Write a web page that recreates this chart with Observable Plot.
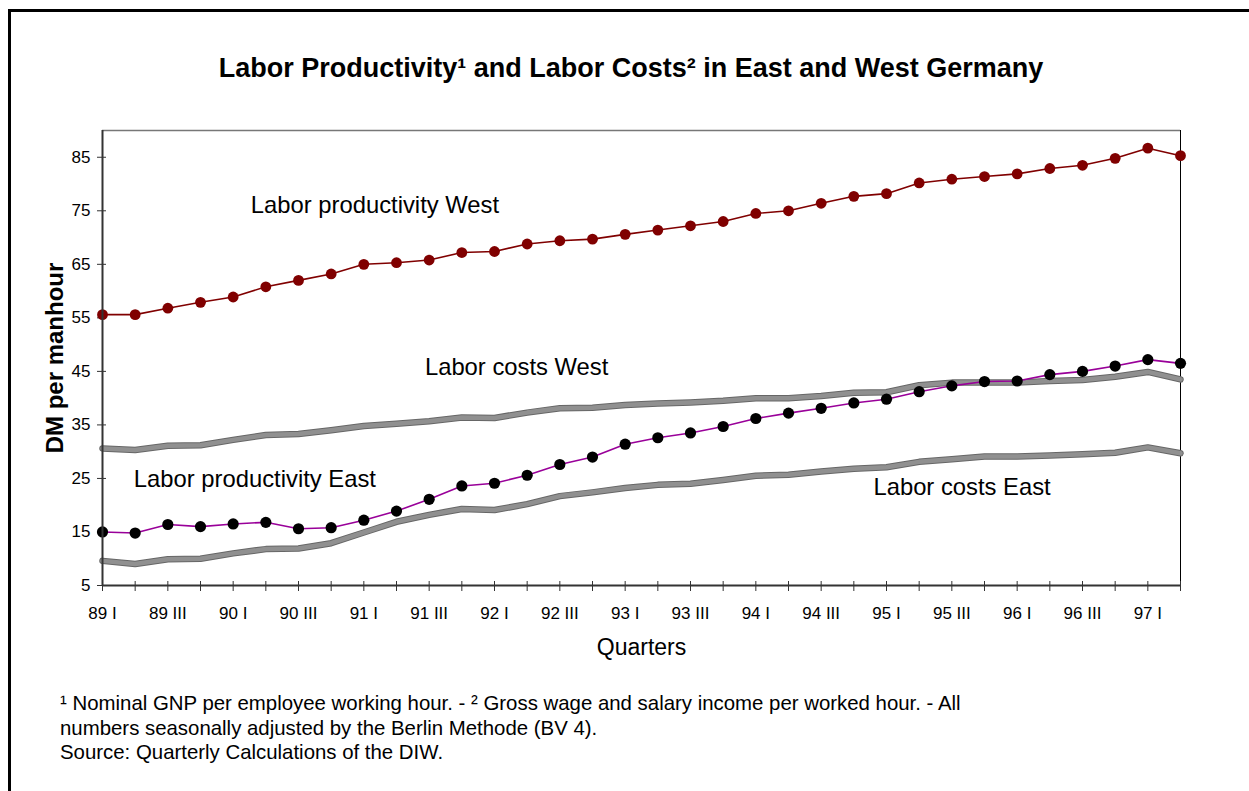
<!DOCTYPE html>
<html>
<head>
<meta charset="utf-8">
<script src="https://cdn.jsdelivr.net/npm/d3@7"></script>
<script src="https://cdn.jsdelivr.net/npm/@observablehq/plot@0.6"></script>
<style>
  html, body { margin: 0; padding: 0; background: #fff; }
  body { width: 1249px; height: 791px; position: relative; overflow: hidden; font-family: "Liberation Sans", Arial, sans-serif; color: #000; }
  #frame { position: absolute; left: 8px; top: 9px; width: 1300px; height: 900px; border-top: 3px solid #000; border-left: 3px solid #000; }
  #title { position: absolute; left: 0; top: 51px; width: 1262px; text-align: center; font-weight: bold; font-size: 27px; line-height: 34px; }
  #chart { position: absolute; left: 0; top: 100px; }
  #notes { position: absolute; left: 60px; top: 691px; font-size: 20.4px; line-height: 24.5px; }
</style>
</head>
<body>
<div id="frame"></div>
<div id="title">Labor Productivity¹ and Labor Costs² in East and West Germany</div>
<div id="chart"></div>
<div id="notes">¹ Nominal GNP per employee working hour. - ² Gross wage and salary income per worked hour. - All<br>numbers seasonally adjusted by the Berlin Methode (BV 4).<br>Source: Quarterly Calculations of the DIW.</div>
<script>
const quarters = ["89 I","89 II","89 III","89 IV","90 I","90 II","90 III","90 IV","91 I","91 II","91 III","91 IV","92 I","92 II","92 III","92 IV","93 I","93 II","93 III","93 IV","94 I","94 II","94 III","94 IV","95 I","95 II","95 III","95 IV","96 I","96 II","96 III","96 IV","97 I","97 II"];
const productivityWest = [55.6,55.6,56.8,57.9,58.9,60.8,62.0,63.2,65.0,65.3,65.8,67.2,67.4,68.8,69.4,69.7,70.6,71.4,72.2,73.0,74.5,75.0,76.4,77.7,78.2,80.2,80.9,81.4,81.9,82.9,83.5,84.8,86.7,85.3];
const productivityEast = [15.0,14.8,16.4,16.0,16.5,16.8,15.6,15.8,17.2,18.9,21.1,23.6,24.1,25.6,27.6,29.0,31.4,32.6,33.5,34.7,36.2,37.2,38.1,39.1,39.8,41.2,42.3,43.1,43.2,44.4,45.0,46.0,47.2,46.5];
const costsWest = [30.6,30.3,31.1,31.2,32.2,33.1,33.3,34.0,34.8,35.2,35.7,36.4,36.3,37.3,38.1,38.2,38.7,39.0,39.2,39.5,40.0,40.0,40.4,41.0,41.1,42.4,42.9,42.9,42.9,43.2,43.4,44.0,44.9,43.5];
const costsEast = [9.6,9.0,9.9,10.0,11.0,11.8,11.9,12.9,14.9,16.9,18.2,19.3,19.1,20.2,21.7,22.4,23.2,23.8,24.0,24.7,25.5,25.7,26.3,26.8,27.1,28.1,28.6,29.1,29.1,29.3,29.5,29.8,30.8,29.7];
const yTicks = [5,15,25,35,45,55,65,75,85];
const seriesLabels = ["Labor productivity West","Labor costs West","Labor productivity East","Labor costs East"];

const idx = quarters.map((q, i) => i);
const toRows = arr => arr.map((v, i) => ({i, v}));

const chart = Plot.plot({
  width: 1249,
  height: 570,
  marginLeft: 102,
  marginRight: 69,
  marginTop: 30,
  marginBottom: 85,
  style: {fontFamily: '"Liberation Sans", Arial, sans-serif', fontSize: "17px", color: "#000", background: "transparent"},
  x: {type: "linear", domain: [0, quarters.length - 1]},
  y: {domain: [5, 90]},
  marks: [
    Plot.ruleY([90], {stroke: "#777", strokeWidth: 1.5}),
    Plot.ruleX([quarters.length - 1], {stroke: "#000", strokeWidth: 1}),
    Plot.axisY({ticks: yTicks, tickSize: 9, dx: 4, tickPadding: 7, label: null, stroke: "#333", fontSize: 17}),
    Plot.axisX({ticks: idx, tickSize: 10, dy: -4, tickPadding: 15, tickFormat: i => i % 2 === 0 ? quarters[i] : "", label: null, stroke: "#333", fontSize: 17}),
    Plot.text(["DM per manhour"], {frameAnchor: "left", textAnchor: "middle", dx: -47, rotate: -90, fontWeight: "bold", fontSize: 24}),
    Plot.text(["Quarters"], {frameAnchor: "bottom", dy: 69, fontSize: 23}),
    Plot.line(toRows(costsWest), {x: "i", y: "v", stroke: "#666", strokeWidth: 6.5}),
    Plot.line(toRows(costsWest), {x: "i", y: "v", stroke: "url(#dither)", strokeWidth: 4.5}),
    Plot.line(toRows(costsEast), {x: "i", y: "v", stroke: "#666", strokeWidth: 6.5}),
    Plot.line(toRows(costsEast), {x: "i", y: "v", stroke: "url(#dither)", strokeWidth: 4.5}),
    Plot.line(toRows(productivityWest), {x: "i", y: "v", stroke: "#800000", strokeWidth: 1.6}),
    Plot.dot(toRows(productivityWest), {x: "i", y: "v", fill: "#800000", r: 5.4}),
    Plot.line(toRows(productivityEast), {x: "i", y: "v", stroke: "#990099", strokeWidth: 1.6}),
    Plot.dot(toRows(productivityEast), {x: "i", y: "v", fill: "#000", r: 5.6}),
    Plot.text([
      {t: seriesLabels[0], x: 4.54, y: 76.0},
      {t: seriesLabels[1], x: 9.87, y: 45.8},
      {t: seriesLabels[2], x: 0.96, y: 24.9},
      {t: seriesLabels[3], x: 23.6, y: 23.4}
    ], {x: "x", y: "y", text: "t", textAnchor: "start", fontSize: 23.8, fill: "#000"}),
    Plot.ruleX([0], {stroke: "#333", strokeWidth: 2}),
    Plot.ruleY([5], {stroke: "#333", strokeWidth: 2})
  ]
});
chart.insertAdjacentHTML("afterbegin",
  '<defs><pattern id="dither" width="2" height="2" patternUnits="userSpaceOnUse">' +
  '<rect width="2" height="2" fill="#fff"/><rect width="1" height="1" fill="#222"/><rect x="1" y="1" width="1" height="1" fill="#222"/>' +
  '</pattern></defs>');
document.getElementById("chart").appendChild(chart);
</script>
</body>
</html>
